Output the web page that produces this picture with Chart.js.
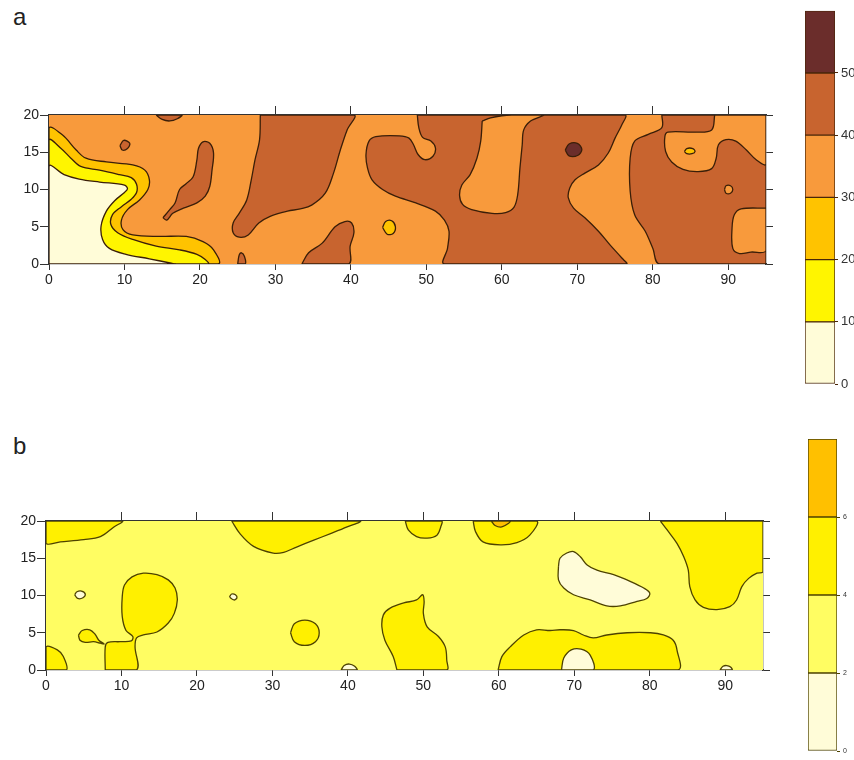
<!DOCTYPE html>
<html>
<head>
<meta charset="utf-8">
<script src="https://cdn.jsdelivr.net/npm/chart.js@4.4.1/dist/chart.umd.min.js"></script>
<style>
  body { margin: 0; background: #fff; width: 854px; height: 760px; position: relative; overflow: hidden; font-family: "Liberation Sans", Arial, sans-serif; }
  .box { position: absolute; }
  .tag { position: absolute; font-size: 24px; color: #222; }
</style>
</head>
<body>
<div class="tag" style="left:13px;top:3px">a</div>
<div class="tag" style="left:13px;top:432px">b</div>
<div class="box" style="left:0;top:100px"><canvas id="mapA" width="790" height="190"></canvas></div>
<div class="box" style="left:790px;top:0"><canvas id="barA" width="64" height="400"></canvas></div>
<div class="box" style="left:0;top:505px"><canvas id="mapB" width="790" height="190"></canvas></div>
<div class="box" style="left:790px;top:430px"><canvas id="barB" width="64" height="330"></canvas></div>

<script>
// axes
const xTicks = [0, 10, 20, 30, 40, 50, 60, 70, 80, 90];
const xTopTicks = [10, 20, 30, 40, 50, 60, 70, 80, 90];
const yTicks = [0, 5, 10, 15, 20];
const yRightTicks = [0, 5, 10, 15, 20];

// contour class bounds
const levelsA = [0, 10, 20, 30, 40, 50, 60];
const levelsB = [0, 2, 4, 6, 8];

// ---- map a : polygons in data units (x, y) ----
const aFull = [[0,0],[0,20],[95,20],[95,0]];
const aBrownWest = [[28,20],[27.9,16.7],[27.3,14],[26.8,11.3],[26.2,8.6],[25.2,6.8],[24.4,5.5],[24.4,4.2],[25.2,3.6],[26.4,3.9],[27.8,5.5],[29.3,6.4],[31.6,7.1],[33.3,7.4],[34.8,7.9],[36.6,9.5],[37.7,12.2],[38.6,15.3],[39.5,18],[40.4,20]];
const aBrownSouth = [[33.5,0],[34.4,1.5],[36.2,2.8],[37.9,5],[39.2,5.7],[40.1,5.5],[40.4,4.2],[39.9,2.4],[39.7,0]];
const aBrownMid = [[48.8,20],[49,18.3],[49.5,17],[50.6,16.5],[51.2,15.6],[50.9,14.5],[49.8,14],[48.9,14.7],[48.3,16],[47.7,16.9],[46.4,17.2],[43.3,17.1],[42.4,16.5],[42,14.7],[42.2,12.9],[42.8,11.3],[44.2,10],[45.9,9.1],[48.6,8.2],[51.2,7.1],[52.4,5.9],[53,4.4],[52.8,2.1],[52.4,0],[76.5,0],[75.9,0.8],[74.3,2.6],[72.8,4.4],[71,6.2],[69.5,7.5],[68.8,8.9],[69,10.2],[69.7,11.3],[71,12.2],[72.8,13.3],[74.1,14.9],[75,16.9],[75.9,18.7],[76.3,20]];
const aBrownEast = [[81.2,20],[95,20],[95,0],[80.9,0],[80,2.1],[79,4.4],[77.6,6.6],[77,9.8],[77,14.2],[77.6,16.5],[79.4,17.4],[81.2,18.3]];
const aOrangeMid = [[57.4,19.2],[58.5,19.6],[60,19.9],[61.3,20],[65.5,20],[63.8,19.2],[62.9,18],[62.7,16],[62.4,12.9],[62.1,9.3],[61.6,7.6],[60.5,6.9],[58.7,6.8],[56,7.3],[54.8,8],[54.4,9.2],[54.7,10.6],[55.8,12],[56.7,14.2],[57.2,16.5]];
const aOrangeNE = [[88.2,20],[87.8,18],[85.6,17.7],[82,17.7],[81.6,17.1],[81.7,15.1],[82.5,13.7],[84,12.7],[86,12.4],[87.8,12.8],[88.4,14.2],[88.7,16],[89.7,16.7],[91,16.5],[92.4,15.3],[93.7,14],[95,13.4],[95,20]];
const aOrangeSE = [[95,7.5],[91.7,7.4],[90.8,6.6],[90.5,4.8],[90.6,2.1],[91.5,1.4],[93,1.6],[95,1.8]];
const aBrownDotTop = [[14.2,20],[15,19.4],[16,19.2],[17,19.5],[17.6,20]];
const aBrownDotLeft = [[9.4,15.9],[9.9,16.6],[10.7,16.2],[10.4,15.5],[9.7,15.3]];
const aBrownLobe = [[15.1,6.2],[16,7.3],[16.7,8.2],[17.3,10],[18.2,10.8],[19.1,11.7],[19.6,14],[19.8,15.5],[20.4,16.4],[21.3,16.2],[21.8,14.9],[21.6,12.6],[21.3,10.4],[20.7,9.1],[19.6,8.2],[17.8,7.5],[16.4,6.8],[15.6,5.9]];
const aBrownDotBottom = [[25,0],[25.2,1.2],[25.5,1.5],[25.9,1],[26,0]];
const aGoldBand = [[0,0],[0,18.2],[1.8,17.3],[3.6,15.3],[4.9,14.2],[7.6,13.7],[11.1,13.3],[12.7,12.6],[13.3,11.3],[13.1,10],[12,8.6],[10.4,7.3],[9.6,5.9],[9.8,4.6],[11.1,3.9],[14.7,3.7],[18.2,3.7],[20.4,3],[21.8,1.9],[22.4,0]];
const aYellowBand = [[0,0],[0,16.6],[1.6,15.5],[2.9,14.2],[4.2,13.1],[6.7,12.6],[9.3,12],[10.9,11.6],[11.6,10.7],[11.6,9.6],[10.9,8.7],[9.6,7.7],[8.4,6.6],[8.2,5.3],[9.1,4.2],[11.1,3.3],[14.2,2.4],[17.3,1.9],[19.6,1.3],[20.7,0.6],[21.1,0]];
const aCream = [[0,0],[0,13.1],[2,12],[4,11.4],[6.7,11],[10,10.6],[10.4,10.1],[10,9.6],[8.7,8.5],[7.6,7.1],[6.9,5.1],[7.1,3.3],[8,2.1],[10.2,1.3],[13.3,0.7],[16.2,0.1],[16.7,0]];
const aGoldDotMid = [[44.2,4.9],[44.6,5.7],[45.4,5.8],[45.9,5],[45.6,4.1],[44.8,4]];
const aGoldDotNE = [[84.2,15.1],[84.5,15.5],[85.3,15.5],[85.6,15.1],[85.2,14.8],[84.5,14.8]];
const aOrangeDot = [[89.5,10],[89.7,10.5],[90.3,10.5],[90.6,10],[90.3,9.5],[89.7,9.5]];
const aDarkDot = [[68.4,15.3],[68.9,16.1],[70,16.2],[70.6,15.4],[70.1,14.6],[68.9,14.5]];

// [polygon, class index] in paint order
const regionsA = [
  [aFull, 3], [aBrownWest, 4], [aBrownSouth, 4], [aBrownMid, 4], [aBrownEast, 4],
  [aOrangeMid, 3], [aOrangeNE, 3], [aOrangeSE, 3],
  [aBrownDotTop, 4], [aBrownDotLeft, 4], [aBrownLobe, 4], [aBrownDotBottom, 4],
  [aGoldBand, 2], [aYellowBand, 1], [aCream, 0],
  [aGoldDotMid, 2], [aGoldDotNE, 2], [aOrangeDot, 3], [aDarkDot, 5]
];

// ---- map b ----
const bFull = [[0,0],[0,20],[95,20],[95,0]];
const bYellowNW = [[0,20],[0,17],[1.9,17.2],[5,17.5],[7.2,17.9],[9,19.2],[10.1,20]];
const bYellowSW = [[0,0],[0,3.1],[1.5,2.7],[2.3,1.8],[2.7,0]];
const bYellowLoop = [[4.3,4.7],[4.8,5.3],[5.8,5.4],[6.5,4.8],[7,4],[7.7,3.5],[7.2,3.6],[6.3,3.8],[5.2,3.7],[4.5,4]];
const bYellowBlob = [[7.85,0],[7.85,3.1],[8.2,3.7],[9.8,3.8],[11.3,3.9],[11.5,4.5],[10.6,5.3],[10.1,7.2],[10.1,9.8],[10.4,11.4],[11.4,12.5],[12.9,13],[14.7,12.8],[16.2,12.1],[17.1,11],[17.4,9.4],[17,7.6],[16.2,6.3],[14.7,5.1],[12.9,4.7],[12,4.3],[11.8,3.1],[12,0]];
const bYellowTop1 = [[24.6,20],[25.7,18.3],[27.5,16.6],[30.1,15.7],[31.5,15.8],[33.2,16.5],[35.4,17.4],[37.7,18.3],[39.9,19.2],[41.6,20]];
const bYellowTop2 = [[47.6,20],[48,18.8],[49.1,17.9],[50.5,17.7],[51.8,18.1],[52.3,19.2],[52.4,20]];
const bYellowTop3 = [[56.6,20],[56.9,18.6],[57.9,17.2],[60.2,16.8],[62.4,17.1],[64.1,18.1],[65,20]];
const bGoldTop = [[59,20],[59.5,19.4],[60.4,19.2],[61.3,19.7],[61.5,20]];
const bYellowRound = [[32.4,5],[32.9,6.2],[34.3,6.7],[35.7,6.2],[36.2,5],[35.7,3.8],[34.3,3.3],[32.9,3.8]];
const bYellowMid = [[46.5,0],[46,1.8],[44.9,4],[44.5,5.8],[44.7,7.4],[45.6,8.3],[47.4,9],[49.1,9.4],[49.9,10.1],[50.1,9.2],[50,7.6],[50.5,5.8],[52,4.5],[52.9,3.1],[53.1,1.3],[53.1,0]];
const bYellowSE = [[59.9,0],[60.4,1.8],[61.5,3.1],[63.3,4.7],[65,5.4],[66.8,5.3],[68.1,5.4],[69.9,5.3],[71.2,4.7],[72.5,4.3],[74.3,4.7],[77,5],[80.1,5],[81.8,4.7],[83.1,4],[83.6,2.7],[83.7,0]];
const bCreamSE = [[68.3,0],[68.6,1.6],[69.6,2.7],[70.9,2.8],[72.1,2],[72.5,0]];
const bCreamBottom = [[39.1,0],[39.5,0.6],[40.2,0.8],[40.9,0.5],[41.2,0]];
const bYellowNE = [[81.4,20],[82.3,18.8],[83.6,17],[84.5,15.2],[85.1,13.4],[85.3,11.2],[86,9.4],[87.1,8.4],[88.9,8.1],[90.6,8.5],[91.5,9.4],[92.2,11.2],[93.1,12.3],[94.2,13],[95,13.2],[95,20]];
const bCreamBlob = [[67.9,13.9],[68.1,15],[69,15.7],[69.9,15.9],[70.8,15.2],[71.7,14.1],[73,13.4],[75.2,12.8],[77.4,11.9],[79.2,11],[80,10.3],[79.6,9.6],[78.3,9.2],[76.1,8.6],[74.3,8.6],[72.1,9.4],[69.9,10.1],[68.6,11],[67.9,12.1]];
const bCreamDot1 = [[3.8,10.1],[4.1,10.5],[4.7,10.6],[5.2,10.2],[4.9,9.7],[4.2,9.6]];
const bCreamDot2 = [[24.3,9.8],[24.6,10.2],[25.1,10.1],[25.3,9.7],[24.9,9.4]];
const bCreamDot3 = [[89.3,0],[89.7,0.5],[90.2,0.6],[90.7,0.4],[90.9,0]];

const regionsB = [
  [bFull, 1], [bYellowNW, 2], [bYellowSW, 2], [bYellowLoop, 2], [bYellowBlob, 2],
  [bYellowTop1, 2], [bYellowTop2, 2], [bYellowTop3, 2], [bGoldTop, 3], [bYellowRound, 2],
  [bYellowMid, 2], [bYellowSE, 2], [bCreamSE, 0], [bCreamBottom, 0], [bYellowNE, 2],
  [bCreamBlob, 0], [bCreamDot1, 0], [bCreamDot2, 0], [bCreamDot3, 0]
];

// palettes
const fillsA = ['#FFFCD8', '#FFF500', '#FFC300', '#F89A3C', '#C8642F', '#6B2D2B'];
const fillsB = ['#FFFCD8', '#FFFD62', '#FFF000', '#FFC000'];

const tickList = arr => s => { s.ticks = arr.map(v => ({ value: v })); };

function mapChart(id, regions, fills, edge, fit) {
  const datasets = regions.map(([poly, cls], i) => ({
    data: poly.concat([poly[0]]).map(([x, y]) => ({ x, y })),
    backgroundColor: fills[cls],
    borderColor: i === 0 ? 'rgba(0,0,0,0)' : edge,
    borderWidth: i === 0 ? 0 : 1.3,
    fill: 'shape',
    tension: i === 0 ? 0 : 0.35,
    pointRadius: 0,
    xAxisID: 'x',
    yAxisID: 'y',
    order: regions.length - i
  }));
  const axisLine = '#333';
  // z: 1 puts the frame and tick marks above the filled areas
  return new Chart(document.getElementById(id), {
    type: 'line',
    data: { datasets },
    options: {
      responsive: false,
      animation: false,
      events: [],
      layout: { padding: 0 },
      plugins: { legend: { display: false }, tooltip: { enabled: false } },
      scales: {
        x: {
          type: 'linear', axis: 'x', position: 'bottom', min: 0, max: 95, z: 1,
          afterBuildTicks: tickList(xTicks),
          afterFit: s => { s.height = fit.bottom; },
          ticks: { color: '#222', font: { size: 14 }, padding: 2, maxRotation: 0, autoSkip: false },
          grid: { drawOnChartArea: false, tickLength: 6, color: axisLine },
          border: { color: axisLine, width: 1.3 }
        },
        xt: {
          type: 'linear', axis: 'x', position: 'top', min: 0, max: 95, z: 1,
          afterBuildTicks: tickList(xTopTicks),
          afterFit: s => { s.height = fit.top; },
          ticks: { display: false },
          grid: { drawOnChartArea: false, tickLength: 9, color: axisLine },
          border: { color: axisLine, width: 1.3 }
        },
        y: {
          type: 'linear', axis: 'y', position: 'left', min: 0, max: 20, z: 1,
          afterBuildTicks: tickList(yTicks),
          afterFit: s => { s.width = fit.left; },
          ticks: { color: '#222', font: { size: 14 }, padding: 1 },
          grid: { drawOnChartArea: false, tickLength: 9, color: axisLine },
          border: { color: axisLine, width: 1.3 }
        },
        yr: {
          type: 'linear', axis: 'y', position: 'right', min: 0, max: 20, z: 1,
          afterBuildTicks: tickList(yRightTicks),
          afterFit: s => { s.width = fit.right; },
          ticks: { display: false },
          grid: { drawOnChartArea: false, tickLength: 7, color: axisLine },
          border: { color: axisLine, width: 1.3 }
        }
      }
    }
  });
}

function legendBar(id, levels, fills, edge, fontSize, pad) {
  const datasets = fills.map((c, i) => ({
    data: [levels[i + 1] - levels[i]],
    backgroundColor: c,
    borderColor: edge,
    borderWidth: 1,
    borderSkipped: false,
    barPercentage: 1,
    categoryPercentage: 1
  }));
  return new Chart(document.getElementById(id), {
    type: 'bar',
    data: { labels: [''], datasets },
    options: {
      responsive: false,
      animation: false,
      events: [],
      layout: { padding: { left: pad.left, top: pad.top, bottom: pad.bottom, right: 0 } },
      plugins: { legend: { display: false }, tooltip: { enabled: false } },
      scales: {
        x: { display: false, stacked: true },
        y: {
          stacked: true, position: 'right', min: levels[0], max: levels[levels.length - 1],
          afterBuildTicks: tickList(levels.slice(0, -1)),
          afterFit: s => { s.width = pad.axis; },
          ticks: { color: '#333', font: { size: fontSize }, padding: 3 },
          grid: { drawOnChartArea: false, tickLength: 3, color: edge },
          border: { display: false }
        }
      }
    }
  });
}

mapChart('mapA', regionsA, fillsA, '#3a1e08', { top: 15, bottom: 26, left: 49, right: 24 });
mapChart('mapB', regionsB, fillsB, '#4d4200', { top: 16, bottom: 25, left: 46, right: 27 });
legendBar('barA', levelsA, fillsA, '#4a2608', 13, { left: 15, top: 8, bottom: 16, axis: 19 });
legendBar('barB', levelsB, fillsB, '#4d4200', 7, { left: 18, top: 9, bottom: 9, axis: 17 });
</script>
</body>
</html>
